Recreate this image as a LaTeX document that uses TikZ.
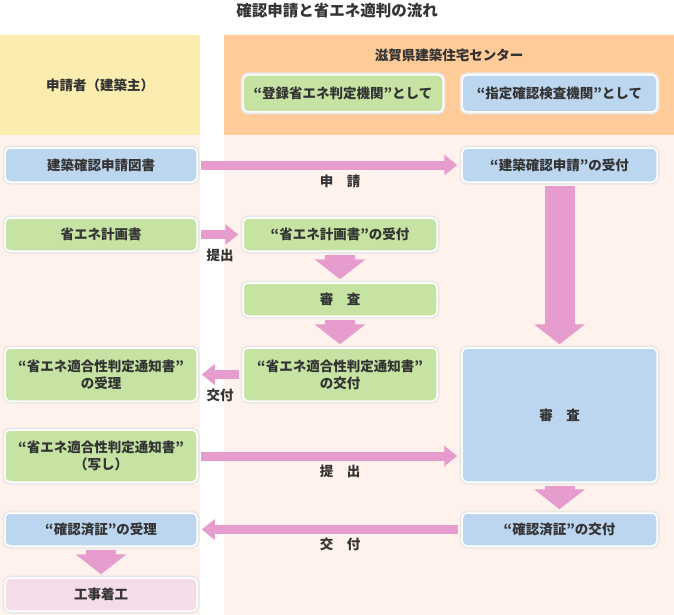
\documentclass[tikz,border=0pt]{standalone}
\usepackage{fontspec}
\newfontfamily\jpfont{Noto Sans CJK JP}
\usepackage{tikz}
\usetikzlibrary{arrows.meta,calc}
\definecolor{hdyellow}{RGB}{251,236,175}
\definecolor{hdorange}{RGB}{255,203,153}
\definecolor{bodypink}{RGB}{255,241,235}
\definecolor{cardblue}{RGB}{189,214,239}
\definecolor{cardgreen}{RGB}{198,227,163}
\definecolor{cardpink}{RGB}{244,220,232}
\definecolor{arrowpink}{RGB}{230,156,204}
\definecolor{textgray}{RGB}{51,51,51}

\begin{document}
\begin{tikzpicture}[x=1pt, y=-1pt, font=\jpfont\bfseries\fontsize{13.5}{17}\selectfont]
    \useasboundingbox (0,0) rectangle (674,615);
    %
    \fill[hdyellow] (0,35) rectangle (200,135);
    \fill[hdorange] (224,35) rectangle (674,135);
    \fill[bodypink] (0,135) rectangle (200,615);
    \fill[bodypink] (224,135) rectangle (674,615);

    %
    \tikzset{
        card/.style={draw=white, line width=1.5pt, rounded corners=5pt, preaction={draw=black!9, line width=5pt}, align=center, text=textgray, inner sep=0pt},
        bluecard/.style={card, fill=cardblue},
        greencard/.style={card, fill=cardgreen},
        pinkcard/.style={card, fill=cardpink},
        fatarrow/.style={draw=arrowpink, line width=9pt, -{Triangle[width=20pt,length=13pt]}, shorten <=3pt, shorten >=4pt},
        downarrow/.style={draw=arrowpink, line width=30pt, -{Triangle[width=50pt,length=20pt]}, shorten <=3.5pt, shorten >=3pt},
        lbl/.style={text=textgray, inner sep=0pt}
    }

    %
    \node[lbl, font=\jpfont\bfseries\fontsize{15.5}{18}\selectfont] (title) at (337,11) {確認申請と省エネ適判の流れ};
    \node[lbl] (applicant) at (100,85) {申請者（建築主）};
    \node[lbl] (center) at (449,55) {滋賀県建築住宅センター};
    \node[greencard, minimum width=200pt, minimum height=37pt] (asjudge) at (343,93.5) {“登録省エネ判定機関”として};
    \node[bluecard, minimum width=195pt, minimum height=37pt] (ascheck) at (559.5,93.5) {“指定確認検査機関”として};

    %
    \node[bluecard, minimum width=192pt, minimum height=34pt] (drawings) at (101,165) {建築確認申請図書};
    \node[greencard, minimum width=192pt, minimum height=33pt] (plan) at (101,234.5) {省エネ計画書};
    \node[greencard, minimum width=192pt, minimum height=53pt] (noticerecv) at (101,374.5) {“省エネ適合性判定通知書”\\の受理};
    \node[greencard, minimum width=192pt, minimum height=52pt] (noticecopy) at (101,456) {“省エネ適合性判定通知書”\\（写し）};
    \node[bluecard, minimum width=192pt, minimum height=33pt] (certrecv) at (101,529.5) {“確認済証”の受理};
    \node[pinkcard, minimum width=192pt, minimum height=33pt] (start) at (101,594.5) {工事着工};

    %
    \node[greencard, minimum width=194pt, minimum height=33pt] (planrecv) at (340,234.5) {“省エネ計画書”の受付};
    \node[greencard, minimum width=194pt, minimum height=33pt] (judge) at (340,299.5) {審　査};
    \node[greencard, minimum width=194pt, minimum height=53pt] (noticeissue) at (340,374.5) {“省エネ適合性判定通知書”\\の交付};

    %
    \node[bluecard, minimum width=195pt, minimum height=34pt] (apprecv) at (559.5,165) {“建築確認申請”の受付};
    \node[bluecard, minimum width=195pt, minimum height=134pt] (review) at (559.5,415) {審　査};
    \node[bluecard, minimum width=195pt, minimum height=33pt] (certissue) at (559.5,529.5) {“確認済証”の交付};

    %
    \draw[fatarrow] (drawings.east) -- (apprecv.west) node[lbl, pos=.54, yshift=-16pt] {申　請};
    \draw[fatarrow] (plan.east) -- (planrecv.west) node[lbl, pos=.5, yshift=-21pt] {提出};
    \draw[fatarrow] (noticeissue.west) -- (noticerecv.east) node[lbl, pos=.5, yshift=-21pt] {交付};
    \draw[fatarrow] (noticecopy.east) -- (noticecopy.east -| review.west) node[lbl, pos=.54, yshift=-15pt] {提　出};
    \draw[fatarrow] (certissue.west) -- (certrecv.east) node[lbl, pos=.46, yshift=-15pt] {交　付};

    %
    \draw[downarrow] (planrecv.south) -- (judge.north);
    \draw[downarrow] (judge.south) -- (noticeissue.north);
    \draw[downarrow] (apprecv.south) -- (review.north);
    \draw[downarrow] (review.south) -- (certissue.north);
    \draw[downarrow] (certrecv.south) -- (start.north);

\end{tikzpicture}
\end{document}
